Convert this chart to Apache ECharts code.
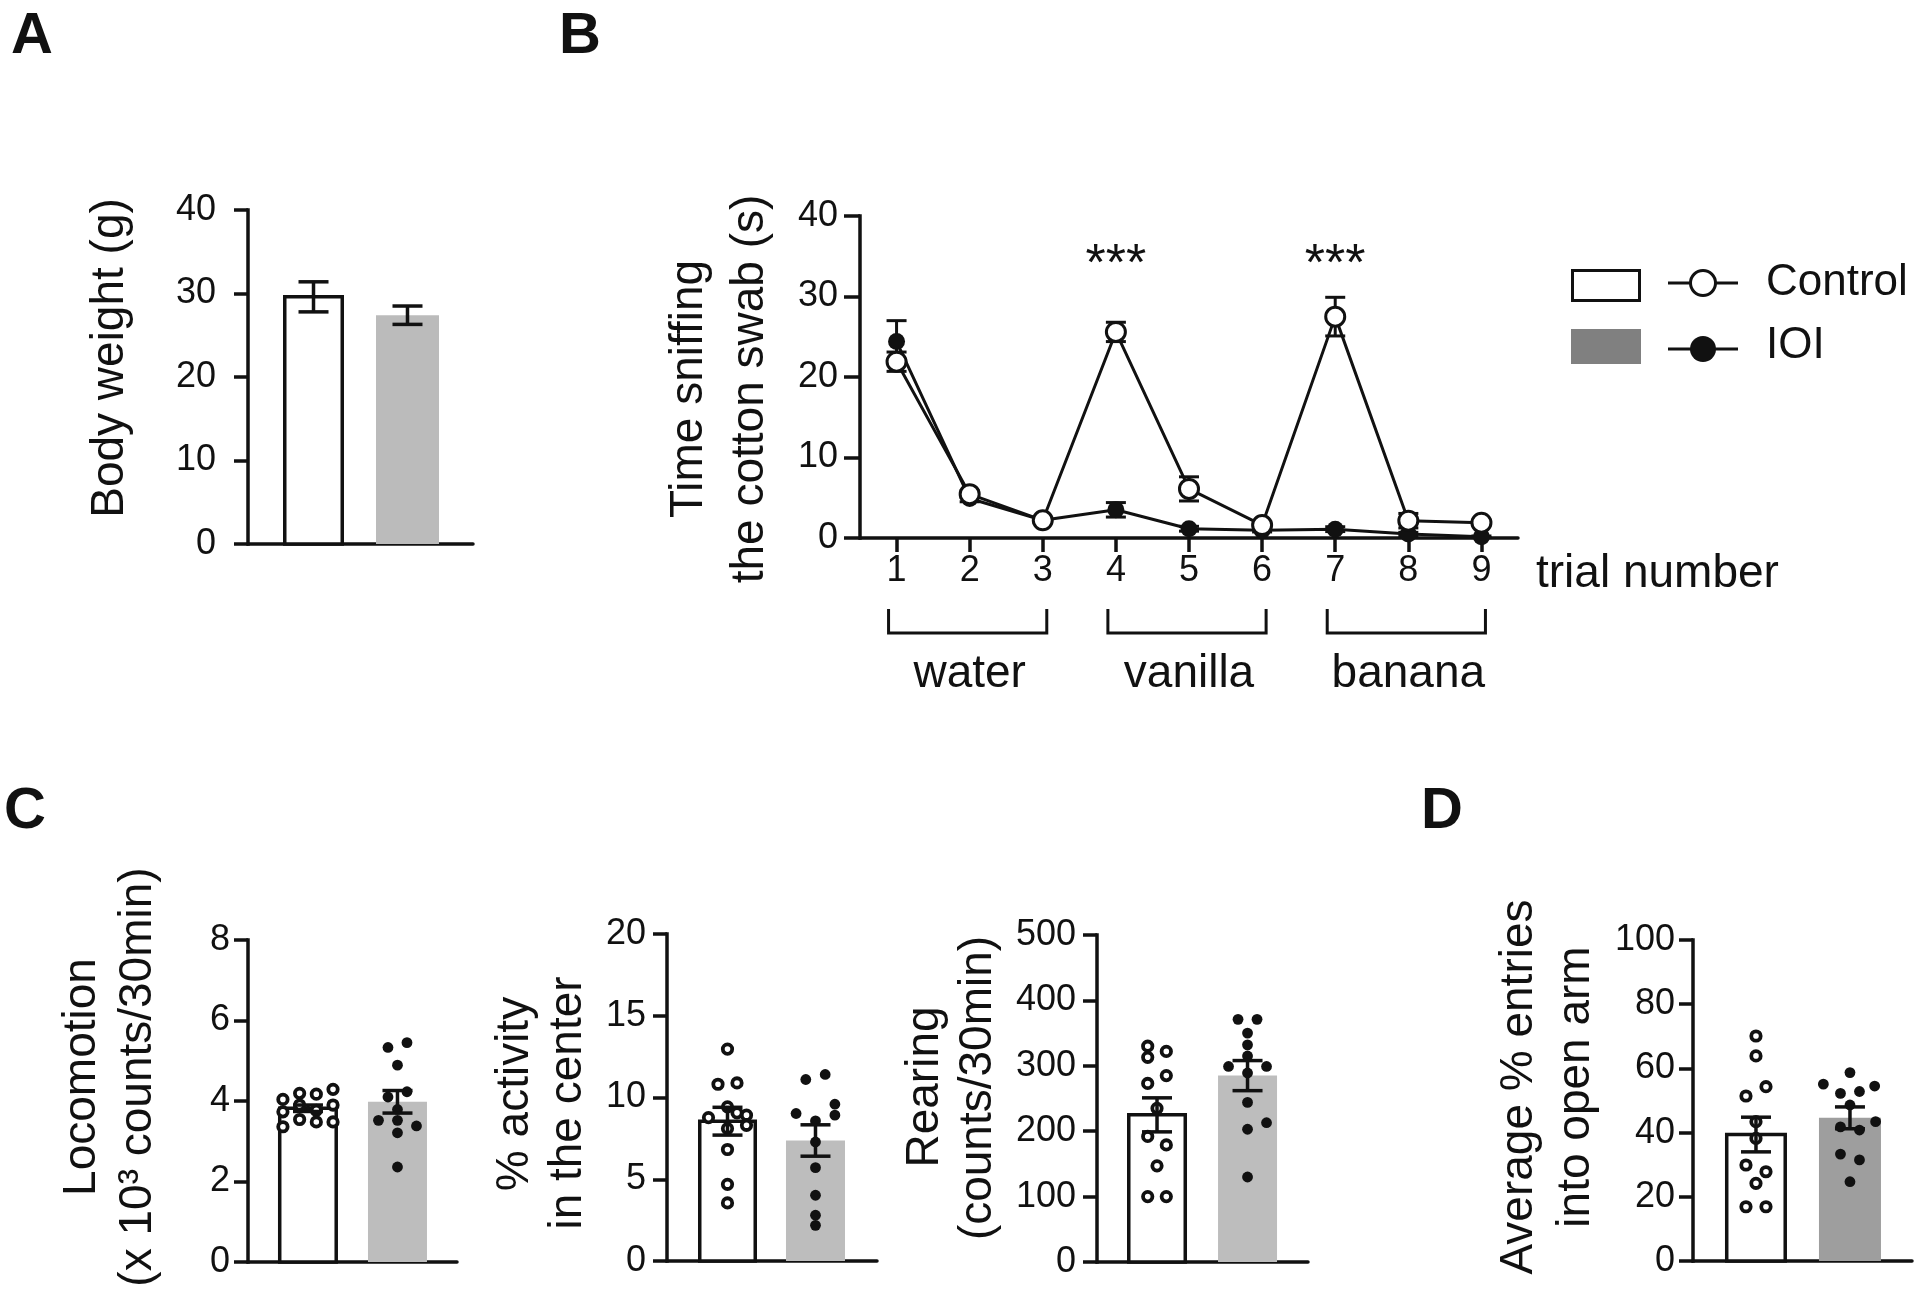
<!DOCTYPE html>
<html><head><meta charset="utf-8">
<script src="https://cdn.jsdelivr.net/npm/echarts/dist/echarts.min.js"></script>
<style>html,body{margin:0;padding:0;background:#fff}#c{width:1920px;height:1292px}</style>
</head><body><div id="c"></div>
<script>
// ================= DATA =================
const groups = ['Control', 'IOI'];

// A: body weight
const bodyWeightMean = [29.6, 27.4];
const bodyWeightSem = [1.8, 1.1];

// B: olfactory habituation / dishabituation
const trials = ['1', '2', '3', '4', '5', '6', '7', '8', '9'];
const sniffControl = [21.9, 5.45, 2.2, 25.6, 6.1, 1.6, 27.5, 2.15, 1.9];
const sniffControlSem = [1.2, 0.4, 0.3, 1.2, 1.5, 0.4, 2.4, 0.9, 0.3];
const sniffIOI = [24.4, 4.9, 2.2, 3.5, 1.15, 0.95, 1.1, 0.5, 0.15];
const sniffIOISem = [2.6, 0.4, 0.3, 0.9, 0.3, 0.2, 0.3, 0.2, 0.1];
const odors = ['water', 'vanilla', 'banana'];
const odorTrialStart = ['1', '4', '7'];
const odorTrialEnd = ['3', '6', '9'];
const sigTrials = ['4', '7'];
const sigLabel = '***';

// C1: locomotion (x10^3 counts / 30 min)
const locoMean = [3.82, 3.98];
const locoSem = [0.08, 0.28];
const locoControl = [4.04, 4.19, 4.17, 4.29, 3.73, 3.90, 3.77, 3.90, 3.36, 3.54, 3.48, 3.48];
const locoIOI = [5.33, 5.45, 4.89, 4.23, 4.10, 3.79, 3.52, 3.52, 3.38, 3.21, 2.36];

// C2: % activity in the center
const centerMean = [8.55, 7.37];
const centerSem = [0.85, 0.96];
const centerControl = [12.96, 10.81, 10.89, 9.43, 8.77, 9.06, 8.92, 8.30, 8.10, 6.82, 4.69, 3.55];
const centerIOI = [11.10, 11.41, 9.59, 8.92, 9.02, 8.57, 7.28, 5.71, 4.02, 2.80, 2.18];

// C3: rearing (counts / 30 min)
const rearMean = [225, 285];
const rearSem = [26, 23];
const rearControl = [330, 313, 322, 273, 285, 235, 192, 179, 147, 100, 100];
const rearIOI = [371, 371, 350, 332, 315, 299, 299, 289, 244, 213, 203, 130];

// D: average % entries into open arm
const openArmMean = [39.4, 44.6];
const openArmSem = [5.4, 3.4];
const openArmControl = [70.1, 63.9, 51.4, 54.3, 43.4, 38.2, 29.9, 27.8, 24.2, 16.9, 16.9];
const openArmIOI = [58.7, 55.1, 54.5, 52.2, 52.8, 48.6, 43.4, 41.8, 40.8, 33.3, 31.5, 24.7];

// ================= LAYOUT (horizontal jitter slots of the dots) =================
const locoControlSlot = [-1.5, -0.5, 0.5, 1.5, -1.5, -0.5, 0.5, 1.5, -1.5, -0.5, 0.5, 1.5];
const locoIOISlot = [-1, 1, 0, 1, -1, 0, -2, 0, 2, 0, 0];
const centerControlSlot = [0, -1, 1, 0, -2, 1, 2, 2, 0, 0, 0, 0];
const centerIOISlot = [-1, 1, 2, 2, -2, 0, 0, 0, 0, 0, 0];
const rearControlSlot = [-1, -1, 1, -1, 1, 0, -1, 1, 0, -1, 1];
const rearIOISlot = [-1, 1, 0, 0, 0, -2, 2, 0, 0, 2, 0, 0];
const openArmControlSlot = [0, 0, -1, 1, 0, 0, -1, 1, 0, -1, 1];
const openArmIOISlot = [0, -2.8, 2.6, -1, 1, 0, 2.7, -1, 1, -1, 1, 0];

const FONT = '"Liberation Sans", Arial, Helvetica, sans-serif';
const INK = '#111111';
const AXW = 3.5;
const TICK_FS = 36;
const TITLE_FS = 46;

const chart = echarts.init(document.getElementById('c'), null, {renderer: 'canvas', width: 1920, height: 1292});

// grid indices: 0 A, 1 B, 2 C1, 3 C2, 4 C3, 5 D
const barPanels = [
  {gi: 0, grid: {left: 248, top: 210, width: 225, height: 334}, xMin: 0.303, xMax: 2.697, yMax: 40, yInt: 10, margin: 32,
   mean: bodyWeightMean, sem: bodyWeightSem, barW: [57.5, 63], fill: ['#ffffff', '#bbbbbb'], dots: null},
  {gi: 2, grid: {left: 248, top: 940, width: 209, height: 322}, xMin: 0.33, xMax: 2.665, yMax: 8, yInt: 2, margin: 18,
   mean: locoMean, sem: locoSem, barW: [56.5, 59], fill: ['#ffffff', '#bdbdbd'],
   dots: [[locoControl, locoControlSlot, 16.7], [locoIOI, locoIOISlot, 9.5]]},
  {gi: 3, grid: {left: 667, top: 934, width: 210, height: 327}, xMin: 0.3125, xMax: 2.699, yMax: 20, yInt: 5, margin: 21,
   mean: centerMean, sem: centerSem, barW: [55.5, 59], fill: ['#ffffff', '#bdbdbd'],
   dots: [[centerControl, centerControlSlot, 9.5], [centerIOI, centerIOISlot, 9.7]]},
  {gi: 4, grid: {left: 1097, top: 935, width: 211, height: 327}, xMin: 0.337, xMax: 2.668, yMax: 500, yInt: 100, margin: 21,
   mean: rearMean, sem: rearSem, barW: [56.5, 59], fill: ['#ffffff', '#bdbdbd'],
   dots: [[rearControl, rearControlSlot, 9.3], [rearIOI, rearIOISlot, 9.5]]},
  {gi: 5, grid: {left: 1693, top: 940, width: 219, height: 321}, xMin: 0.33, xMax: 2.66, yMax: 100, yInt: 20, margin: 18,
   mean: openArmMean, sem: openArmSem, barW: [58.5, 62], fill: ['#ffffff', '#9e9e9e'],
   dots: [[openArmControl, openArmControlSlot, 10], [openArmIOI, openArmIOISlot, 9.5]]}
];
const gridB = {left: 860, top: 216, width: 658, height: 322};

const grids = [];
const xAxes = [];
const yAxes = [];
const series = [];

function yAxisCfg(gi, max, interval, margin, tickLen) {
  return {type: 'value', gridIndex: gi, min: 0, max: max, interval: interval,
    axisLine: {show: true, onZero: false, lineStyle: {color: INK, width: AXW, cap: 'square'}},
    axisTick: {show: true, inside: false, length: tickLen, lineStyle: {color: INK, width: AXW}},
    axisLabel: {show: true, margin: margin, fontSize: TICK_FS, color: INK, fontFamily: FONT},
    splitLine: {show: false}};
}

function errSeries(gi, xs, means, sems, cap, lw, z) {
  return {type: 'custom', xAxisIndex: gi, yAxisIndex: gi, z: z, silent: true, animation: false,
    data: means.map((m, k) => [xs[k], m, sems[k]]),
    renderItem: function (params, api) {
      const x = api.value(0), m = api.value(1), s = api.value(2);
      const hi = api.coord([x, m + s]);
      const lo = api.coord([x, m - s]);
      const st = {stroke: INK, lineWidth: lw};
      return {type: 'group', children: [
        {type: 'line', shape: {x1: hi[0], y1: hi[1], x2: lo[0], y2: lo[1]}, style: st},
        {type: 'line', shape: {x1: hi[0] - cap / 2, y1: hi[1], x2: hi[0] + cap / 2, y2: hi[1]}, style: st},
        {type: 'line', shape: {x1: lo[0] - cap / 2, y1: lo[1], x2: lo[0] + cap / 2, y2: lo[1]}, style: st}
      ]};
    }};
}

const allGrids = [barPanels[0].grid, gridB, barPanels[1].grid, barPanels[2].grid, barPanels[3].grid, barPanels[4].grid];
allGrids.forEach(g => grids.push(Object.assign({containLabel: false, outerBoundsMode: 'none'}, g)));
for (let i = 0; i < 6; i++) { xAxes.push(null); yAxes.push(null); }

barPanels.forEach(p => {
  xAxes[p.gi] = {type: 'value', gridIndex: p.gi, min: p.xMin, max: p.xMax,
    axisLine: {show: true, onZero: false, lineStyle: {color: INK, width: AXW}},
    axisTick: {show: false}, axisLabel: {show: false}, splitLine: {show: false}};
  yAxes[p.gi] = yAxisCfg(p.gi, p.yMax, p.yInt, p.margin, 14);

  // bars
  series.push({type: 'custom', xAxisIndex: p.gi, yAxisIndex: p.gi, z: 2, silent: true, animation: false,
    data: p.mean.map((m, k) => [k + 1, m]),
    renderItem: function (params, api) {
      const k = params.dataIndex;
      const top = api.coord([api.value(0), api.value(1)]);
      const base = api.coord([api.value(0), 0]);
      const w = p.barW[k];
      const ctrl = (k === 0);
      return {type: 'rect', shape: {x: top[0] - w / 2, y: top[1], width: w, height: base[1] - top[1]},
        style: {fill: p.fill[k], stroke: ctrl ? INK : null, lineWidth: ctrl ? AXW : 0}};
    }});

  // individual animals
  if (p.dots) {
    p.dots.forEach((d, g) => {
      const vals = d[0], slots = d[1], spacing = d[2];
      series.push({type: 'custom', xAxisIndex: p.gi, yAxisIndex: p.gi, z: 3, silent: true, animation: false,
        data: vals.map(v => [g + 1, v]),
        renderItem: function (params, api) {
          const c = api.coord([api.value(0), api.value(1)]);
          const x = c[0] + slots[params.dataIndex] * spacing;
          if (g === 1) return {type: 'circle', shape: {cx: x, cy: c[1], r: 5.4}, style: {fill: INK}};
          return {type: 'circle', shape: {cx: x, cy: c[1], r: 4.7}, style: {fill: '#ffffff', stroke: INK, lineWidth: 3.8}};
        }});
    });
  }
  // error bars (mean ± SEM)
  series.push(errSeries(p.gi, [1, 2], p.mean, p.sem, 30, 3.5, 4));
});

// ---------- Panel B ----------
xAxes[1] = {type: 'category', gridIndex: 1, data: trials, boundaryGap: true,
  axisLine: {show: true, onZero: false, lineStyle: {color: INK, width: AXW}},
  axisTick: {show: true, alignWithLabel: true, length: 14, lineStyle: {color: INK, width: AXW}},
  axisLabel: {show: true, interval: 0, margin: 15, fontSize: TICK_FS, color: INK, fontFamily: FONT},
  splitLine: {show: false}};
yAxes[1] = yAxisCfg(1, 40, 10, 22, 16);

const idx = trials.map((t, i) => i);
series.push(errSeries(1, idx, sniffIOI, sniffIOISem, 20, 3, 3));
series.push({type: 'line', xAxisIndex: 1, yAxisIndex: 1, data: sniffIOI, z: 4, silent: true, animation: false,
  symbol: 'circle', symbolSize: 17, showSymbol: true, emphasis: {disabled: true},
  itemStyle: {color: INK}, lineStyle: {color: INK, width: 3}});
series.push(errSeries(1, idx, sniffControl, sniffControlSem, 20, 3, 5));
series.push({type: 'line', xAxisIndex: 1, yAxisIndex: 1, data: sniffControl, z: 6, silent: true, animation: false,
  symbol: 'circle', symbolSize: 19, showSymbol: true, emphasis: {disabled: true},
  itemStyle: {color: '#ffffff', borderColor: INK, borderWidth: 3}, lineStyle: {color: INK, width: 3}});

// significance stars
const STAR_Y = 33.8;
series.push({type: 'custom', xAxisIndex: 1, yAxisIndex: 1, z: 7, silent: true, animation: false,
  data: sigTrials.map(t => [trials.indexOf(t), STAR_Y]),
  renderItem: function (params, api) {
    const c = api.coord([api.value(0), api.value(1)]);
    return {type: 'text', x: c[0], y: c[1], style: {text: sigLabel, fontSize: 52, fontFamily: FONT, fill: INK, align: 'center', verticalAlign: 'middle'}};
  }});

// odor brackets under the trial axis
series.push({type: 'custom', xAxisIndex: 1, yAxisIndex: 1, z: 7, silent: true, animation: false, clip: false,
  data: odors.map((o, i) => [trials.indexOf(odorTrialStart[i]), 0, trials.indexOf(odorTrialEnd[i])]),
  renderItem: function (params, api) {
    const a = api.coord([api.value(0), 0]);
    const b = api.coord([api.value(2), 0]);
    const x1 = a[0] - 8, x2 = b[0] + 4, y0 = a[1];
    return {type: 'group', children: [
      {type: 'polyline', shape: {points: [[x1, y0 + 71], [x1, y0 + 95], [x2, y0 + 95], [x2, y0 + 71]]},
        style: {stroke: INK, lineWidth: 3, fill: null}},
      {type: 'text', x: (x1 + x2) / 2 + 2, y: y0 + 136,
        style: {text: odors[params.dataIndex], fontSize: TITLE_FS, fontFamily: FONT, fill: INK, align: 'center', verticalAlign: 'middle'}}
    ]};
  }});

// ---------- graphic: panel letters, axis titles, legend ----------
const graphic = [];
[['A', 11, 37], ['B', 559, 37], ['C', 4, 812], ['D', 1421, 812]].forEach(l => {
  graphic.push({type: 'text', x: l[1], y: l[2], silent: true,
    style: {text: l[0], fontSize: 58, fontWeight: 'bold', fontFamily: FONT, fill: INK, align: 'left', verticalAlign: 'middle'}});
});
const titles = [
  ['Body weight (g)', 110, 358],
  ['Time sniffing', 689, 389], ['the cotton swab (s)', 750, 389],
  ['Locomotion', 82, 1077], ['(x 10\u00B3 counts/30min)', 138, 1077],
  ['% activity', 515, 1094], ['in the center', 568, 1103],
  ['Rearing', 925, 1087], ['(counts/30min)', 978, 1088],
  ['Average % entries', 1519, 1087], ['into open arm', 1576, 1087]
];
titles.forEach(t => {
  graphic.push({type: 'text', x: t[1], y: t[2], rotation: Math.PI / 2, silent: true,
    style: {text: t[0], fontSize: TITLE_FS, fontFamily: FONT, fill: INK, align: 'center', verticalAlign: 'middle'}});
});
graphic.push({type: 'text', x: 1536, y: 574, silent: true,
  style: {text: 'trial number', fontSize: TITLE_FS, fontFamily: FONT, fill: INK, align: 'left', verticalAlign: 'middle'}});

// legend
graphic.push({type: 'rect', silent: true, shape: {x: 1572.5, y: 270.5, width: 67, height: 30}, style: {fill: '#ffffff', stroke: INK, lineWidth: 3}});
graphic.push({type: 'rect', silent: true, shape: {x: 1571, y: 329, width: 70, height: 35}, style: {fill: '#808080'}});
graphic.push({type: 'line', silent: true, shape: {x1: 1668, y1: 283, x2: 1738, y2: 283}, style: {stroke: INK, lineWidth: 3}});
graphic.push({type: 'circle', silent: true, shape: {cx: 1703, cy: 283, r: 12.5}, style: {fill: '#ffffff', stroke: INK, lineWidth: 3}});
graphic.push({type: 'line', silent: true, shape: {x1: 1668, y1: 349, x2: 1738, y2: 349}, style: {stroke: INK, lineWidth: 3}});
graphic.push({type: 'circle', silent: true, shape: {cx: 1703, cy: 349, r: 13}, style: {fill: INK}});
graphic.push({type: 'text', silent: true, x: 1766, y: 283, style: {text: groups[0], fontSize: 44, fontFamily: FONT, fill: INK, align: 'left', verticalAlign: 'middle'}});
graphic.push({type: 'text', silent: true, x: 1766, y: 346, style: {text: groups[1], fontSize: 44, fontFamily: FONT, fill: INK, align: 'left', verticalAlign: 'middle'}});

chart.setOption({
  animation: false,
  backgroundColor: '#ffffff',
  textStyle: {fontFamily: FONT},
  grid: grids,
  xAxis: xAxes,
  yAxis: yAxes,
  series: series,
  graphic: graphic
});
</script>
</body></html>
